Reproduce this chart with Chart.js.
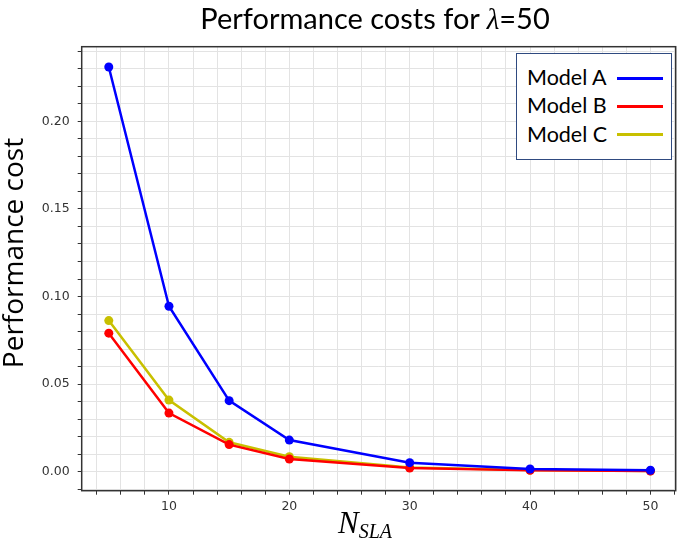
<!DOCTYPE html>
<html>
<head>
<meta charset="utf-8">
<script src="https://cdn.jsdelivr.net/npm/chart.js@4.4.1/dist/chart.umd.min.js"></script>
<style>
  html, body { margin: 0; padding: 0; background: #fff; overflow: hidden; }
  #wrap { position: relative; width: 685px; height: 543px; }
  #chart { position: absolute; left: 0; top: 0; }
  .title {
    position: absolute; left: 65px; top: 3px; width: 620px;
    text-align: center; font: 29px/29px Lato, sans-serif; color: #000;
  }
  .title i { font-family: "Liberation Serif", serif; }
  .ytitle {
    position: absolute; left: -138px; top: 239px; width: 300px; height: 28px;
    text-align: center; font: 28px/28px "Open Sans", sans-serif; color: #000;
    transform: rotate(-90deg);
  }
  .xtitle {
    position: absolute; left: 338px; top: 507px; height: 31px; white-space: nowrap;
    font: italic 31px/31px "Liberation Serif", serif; color: #000;
  }
  .xtitle sub { font-size: 20px; vertical-align: -5px; }
  #legend {
    position: absolute; left: 516px; top: 53px; width: 156px; height: 107px;
    box-sizing: border-box; border: 1px solid #2f4a80; background: #fff;
  }
  #legend .row { position: absolute; left: 10px; height: 21px; font: 21.5px/21px Lato, sans-serif; color: #000; }
  #legend .swatch { position: absolute; left: 100px; width: 46px; height: 3px; }
</style>
</head>
<body>
<div id="wrap">
  <canvas id="chart" width="685" height="543"></canvas>
  <div class="title">Performance costs for <i>λ</i>=50</div>
  <div class="ytitle">Performance cost</div>
  <div class="xtitle">N<sub>SLA</sub></div>
  <div id="legend"></div>
</div>
<script>
// N_SLA values on the x axis
let nValues = [5, 10, 15, 20, 30, 40, 50]

// performance cost per model
let modelA = [0.231, 0.0945, 0.0406, 0.0181, 0.0052, 0.0016, 0.0009]
let modelB = [0.0791, 0.0335, 0.0155, 0.0073, 0.0021, 0.0008, 0.0004]
let modelC = [0.0863, 0.0409, 0.0168, 0.0086, 0.0025, 0.0010, 0.0005]

let seriesNames = ['Model A', 'Model B', 'Model C']
let seriesColors = ['#0000ff', '#ff0000', '#c8c000']

let xTickLabels = [10, 20, 30, 40, 50]
let yTickLabels = [0.00, 0.05, 0.10, 0.15, 0.20]

const toPoints = vals => nValues.map((n, i) => ({ x: n, y: vals[i] }))

const frame = {
    id: 'frame',
    afterDraw(chart) {
        const { ctx, chartArea: a } = chart
        ctx.save()
        ctx.strokeStyle = '#333'
        ctx.lineWidth = 1.5
        ctx.strokeRect(a.left, a.top, a.right - a.left, a.bottom - a.top)
        ctx.restore()
    }
}

Chart.defaults.font.family = 'DejaVu Sans'

const gridColor = '#e3e3e3'

const ctx = document.getElementById('chart').getContext('2d')
const myChart = new Chart(ctx, {
    type: 'line',
    data: {
        datasets: [modelA, modelB, modelC].map((vals, i) => ({
            label: seriesNames[i],
            data: toPoints(vals),
            borderColor: seriesColors[i],
            backgroundColor: seriesColors[i],
            pointBackgroundColor: seriesColors[i],
            borderWidth: 2.5,
            pointRadius: 4.5,
            pointBorderWidth: 0,
            tension: 0
        }))
    },
    options: {
        responsive: false,
        animation: false,
        layout: { padding: { top: 46.7, right: 9.3, left: 0, bottom: 0 } },
        plugins: {
            legend: { display: false },
            title: { display: false },
            tooltip: { enabled: false }
        },
        scales: {
            x: {
                type: 'linear',
                min: 2.75,
                max: 52.1,
                afterBuildTicks: s => {
                    let t = []
                    for (let v = 4; v <= 52; v += 2) t.push({ value: v })
                    s.ticks = t
                },
                afterFit: s => { s.height = 52.3 },
                ticks: {
                    autoSkip: false,
                    maxRotation: 0,
                    padding: 5,
                    color: '#333',
                    font: { size: 12.5 },
                    callback: v => xTickLabels.includes(v) ? String(v) : ''
                },
                grid: { color: gridColor, lineWidth: 1, tickColor: '#333', tickLength: 4 },
                border: { display: false }
            },
            y: {
                min: -0.0108,
                max: 0.2426,
                afterBuildTicks: s => {
                    let t = []
                    for (let i = -1; i <= 24; i++) t.push({ value: i / 100 })
                    s.ticks = t
                },
                afterFit: s => { s.width = 81.7 },
                ticks: {
                    autoSkip: false,
                    padding: 8,
                    color: '#333',
                    font: { size: 12.5 },
                    callback: v => yTickLabels.some(l => Math.abs(l - v) < 1e-9) ? v.toFixed(2) : ''
                },
                grid: { color: gridColor, lineWidth: 1, tickColor: '#333', tickLength: 4 },
                border: { display: false }
            }
        }
    },
    plugins: [frame]
})

// legend box: text first, line sample after it
let legend = document.getElementById('legend')
myChart.data.datasets.forEach((ds, i) => {
    let row = document.createElement('div')
    row.className = 'row'
    row.style.top = (13 + i * 28.3) + 'px'
    row.textContent = ds.label
    legend.appendChild(row)

    let sw = document.createElement('div')
    sw.className = 'swatch'
    sw.style.top = (22.8 + i * 28.1) + 'px'
    sw.style.background = ds.borderColor
    legend.appendChild(sw)
})
</script>
</body>
</html>
